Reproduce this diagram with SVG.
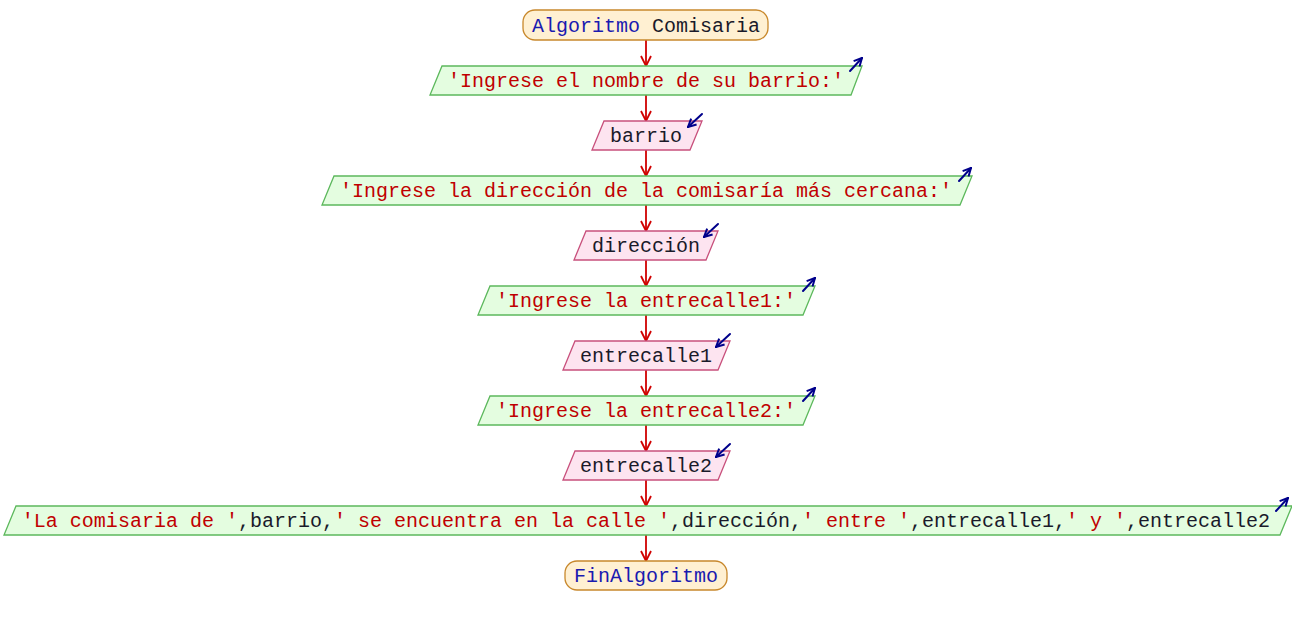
<svg xmlns="http://www.w3.org/2000/svg" width="1292" height="625" viewBox="0 0 1292 625">
<defs>
<style>
text{font-family:"Liberation Mono","Courier New",monospace;font-size:20px;text-anchor:middle;white-space:pre}
.term{fill:#fff0d2;stroke:#c8882c;stroke-width:1.3}
.out{fill:#e4fde0;stroke:#5cb85c;stroke-width:1.3}
.in{fill:#fde4f0;stroke:#c8507c;stroke-width:1.3}
.kw{fill:#1a1ab0}
.id{fill:#1a1a2a}
.str{fill:#c00000}
.icon{fill:none;stroke:#00008b;stroke-width:2;stroke-linecap:round}
.edge{fill:none;stroke:#d00000;stroke-width:1.8}
</style>
<marker id="ah" viewBox="0 0 12 12" refX="11" refY="6" markerWidth="12" markerHeight="12" markerUnits="userSpaceOnUse" orient="auto">
<path d="M1,1 L11,6 L1,11" fill="none" stroke="#d00000" stroke-width="1.8"/>
</marker>
<marker id="bh" viewBox="0 0 10 10" refX="9" refY="5" markerWidth="10" markerHeight="10" markerUnits="userSpaceOnUse" orient="auto">
<path d="M1,1 L9,5 L1,9" fill="none" stroke="#00008b" stroke-width="2"/>
</marker>
</defs>
<rect width="1292" height="625" fill="#ffffff"/>
<g id="connectors">
<line class="edge" x1="646" y1="40" x2="646" y2="66" marker-end="url(#ah)"/>
<line class="edge" x1="646" y1="95" x2="646" y2="121" marker-end="url(#ah)"/>
<line class="edge" x1="646" y1="150" x2="646" y2="176" marker-end="url(#ah)"/>
<line class="edge" x1="646" y1="205" x2="646" y2="231" marker-end="url(#ah)"/>
<line class="edge" x1="646" y1="260" x2="646" y2="286" marker-end="url(#ah)"/>
<line class="edge" x1="646" y1="315" x2="646" y2="341" marker-end="url(#ah)"/>
<line class="edge" x1="646" y1="370" x2="646" y2="396" marker-end="url(#ah)"/>
<line class="edge" x1="646" y1="425" x2="646" y2="451" marker-end="url(#ah)"/>
<line class="edge" x1="646" y1="480" x2="646" y2="506" marker-end="url(#ah)"/>
<line class="edge" x1="646" y1="535" x2="646" y2="561" marker-end="url(#ah)"/>
</g>
<g id="start">
<rect class="term" x="523" y="10" width="245" height="30" rx="12" ry="12"/>
<text x="646" y="32"><tspan class="kw">Algoritmo</tspan> <tspan class="id">Comisaria</tspan></text>
</g>
<g id="out1">
<polygon class="out" points="442,66 862,66 851,95 430,95"/>
<text x="646" y="87" class="str">'Ingrese el nombre de su barrio:'</text>
<line class="icon" x1="850" y1="71" x2="862" y2="58" marker-end="url(#bh)"/>
</g>
<g id="in1">
<polygon class="in" points="604,121 702,121 690,150 592,150"/>
<text x="646" y="142" class="id">barrio</text>
<line class="icon" x1="702" y1="114" x2="688" y2="127" marker-end="url(#bh)"/>
</g>
<g id="out2">
<polygon class="out" points="334,176 972,176 960,205 322,205"/>
<text x="646" y="197" class="str">'Ingrese la dirección de la comisaría más cercana:'</text>
<line class="icon" x1="959" y1="181" x2="971" y2="168" marker-end="url(#bh)"/>
</g>
<g id="in2">
<polygon class="in" points="586,231 718,231 706,260 574,260"/>
<text x="646" y="252" class="id">dirección</text>
<line class="icon" x1="718" y1="224" x2="704" y2="237" marker-end="url(#bh)"/>
</g>
<g id="out3">
<polygon class="out" points="490,286 815,286 803,315 478,315"/>
<text x="646" y="307" class="str">'Ingrese la entrecalle1:'</text>
<line class="icon" x1="803" y1="291" x2="815" y2="278" marker-end="url(#bh)"/>
</g>
<g id="in3">
<polygon class="in" points="575,341 730,341 718,370 563,370"/>
<text x="646" y="362" class="id">entrecalle1</text>
<line class="icon" x1="730" y1="334" x2="716" y2="347" marker-end="url(#bh)"/>
</g>
<g id="out4">
<polygon class="out" points="490,396 815,396 803,425 478,425"/>
<text x="646" y="417" class="str">'Ingrese la entrecalle2:'</text>
<line class="icon" x1="803" y1="401" x2="815" y2="388" marker-end="url(#bh)"/>
</g>
<g id="in4">
<polygon class="in" points="575,451 730,451 718,480 563,480"/>
<text x="646" y="472" class="id">entrecalle2</text>
<line class="icon" x1="730" y1="444" x2="716" y2="457" marker-end="url(#bh)"/>
</g>
<g id="out5">
<polygon class="out" points="16,506 1292,506 1280,535 4,535"/>
<text x="646" y="527"><tspan class="str">'La comisaria de '</tspan><tspan class="id">,barrio,</tspan><tspan class="str">' se encuentra en la calle '</tspan><tspan class="id">,dirección,</tspan><tspan class="str">' entre '</tspan><tspan class="id">,entrecalle1,</tspan><tspan class="str">' y '</tspan><tspan class="id">,entrecalle2</tspan></text>
<line class="icon" x1="1276" y1="511" x2="1288" y2="498" marker-end="url(#bh)"/>
</g>
<g id="end">
<rect class="term" x="565" y="561" width="162" height="29" rx="12" ry="12"/>
<text x="646" y="582" class="kw">FinAlgoritmo</text>
</g>
</svg>
